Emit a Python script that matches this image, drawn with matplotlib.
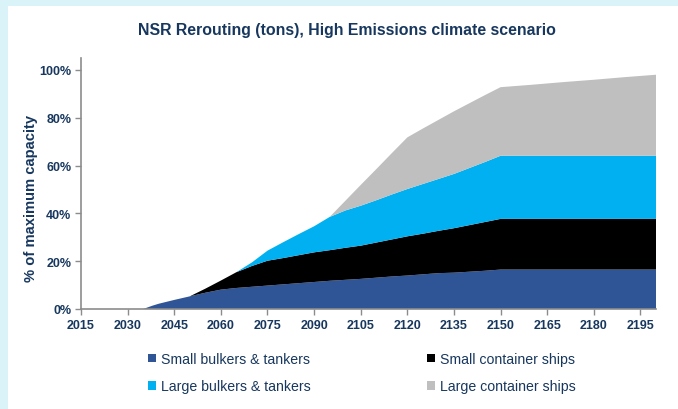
import matplotlib
matplotlib.use("Agg")
import matplotlib.pyplot as plt
from matplotlib.patches import Patch, Rectangle
from matplotlib.ticker import FuncFormatter

plt.rcParams['font.family'] = ['Liberation Sans', 'DejaVu Sans']

years = [2015, 2035, 2038, 2040, 2045, 2050, 2055, 2060, 2065,
         2070, 2075, 2080, 2085, 2090, 2095, 2100, 2105, 2110, 2115, 2120,
         2125, 2130, 2135, 2140, 2145, 2150,
         2160, 2170, 2180, 2190, 2200]

small_bulkers = [0, 0, 1.4, 2.2, 3.8, 5.3, 6.8, 8.1, 8.8,
                 9.3, 9.8, 10.3, 10.8, 11.3, 11.8, 12.2, 12.6, 13.1, 13.6, 14.0,
                 14.5, 15.0, 15.2, 15.6, 16.0, 16.5,
                 16.5, 16.5, 16.5, 16.5, 16.5]
small_container = [0, 0, 0, 0, 0, 0, 1.7, 3.8, 6.6,
                   8.7, 10.4, 11.0, 11.7, 12.4, 12.8, 13.4, 13.9, 14.7, 15.5, 16.4,
                   17.0, 17.7, 18.6, 19.5, 20.4, 21.2,
                   21.2, 21.2, 21.2, 21.2, 21.2]
large_bulkers = [0, 0, 0, 0, 0, 0, 0, 0, 0,
                 1.5, 4.2, 6.6, 8.8, 10.9, 13.9, 15.6, 16.7, 17.7, 18.8, 19.8,
                 20.8, 21.7, 22.7, 23.9, 25.1, 26.4,
                 26.4, 26.4, 26.4, 26.4, 26.4]
large_container = [0, 0, 0, 0, 0, 0, 0, 0, 0,
                   0, 0, 0, 0, 0, 0, 4.0, 8.7, 13.0, 17.3, 21.6,
                   23.2, 24.7, 26.2, 27.1, 28.0, 28.7,
                   29.7, 30.8, 31.8, 32.9, 33.9]

labels = ["Small bulkers & tankers", "Small container ships",
          "Large bulkers & tankers", "Large container ships"]
colors = ["#2F5597", "#000000", "#00B0F0", "#BFBFBF"]
xticks = list(range(2015, 2200, 15))
yticks = [0, 20, 40, 60, 80, 100]

text_col = "#17375E"
spine_col = "#8C8C8C"

W, H = 678, 410
fig = plt.figure(figsize=(W / 100, H / 100), dpi=100)
fig.patch.set_facecolor("#DAF3F8")
fig.add_artist(Rectangle((8 / W, 0), 1 - 8 / W, (H - 7) / H,
                         transform=fig.transFigure, facecolor="white",
                         edgecolor="none", zorder=0))

ax = fig.add_axes([81 / W, (H - 310) / H, 575 / W, 251 / H])
ax.set_facecolor("none")
series = [small_bulkers, small_container, large_bulkers, large_container]
ax.stackplot(years, *series, colors=colors, labels=labels, linewidth=0)

ax.set_xlim(2015, 2200)
ax.set_ylim(0, 105)
ax.set_xticks(xticks)
ax.set_yticks(yticks)
ax.yaxis.set_major_formatter(FuncFormatter(lambda v, p: f"{int(v)}%"))
for s in ["top", "right"]:
    ax.spines[s].set_visible(False)
for s in ["left", "bottom"]:
    ax.spines[s].set_color(spine_col)
    ax.spines[s].set_linewidth(1.2)
    ax.spines[s].set_zorder(5)
ax.tick_params(axis="both", direction="out", length=4, width=1,
               color=spine_col, labelcolor=text_col, labelsize=9, pad=3)
for lab in ax.get_xticklabels() + ax.get_yticklabels():
    lab.set_fontweight("bold")

fig.text(347 / W, 1 - 30 / H, "NSR Rerouting (tons), High Emissions climate scenario",
         ha="center", va="center", fontsize=11.4, fontweight="bold", color=text_col)
fig.text(31 / W, 1 - 198 / H, "% of maximum capacity", rotation=90,
         ha="center", va="center", fontsize=10.6, fontweight="bold", color=text_col)

handles = [Patch(facecolor=c, edgecolor="none") for c in colors]
common = dict(frameon=False, fontsize=10.2, handlelength=0.55, handleheight=0.55,
              handletextpad=0.35, labelspacing=0.95, borderpad=0, borderaxespad=0)
leg1 = fig.legend([handles[0], handles[2]], [labels[0], labels[2]],
                  loc="upper left", bbox_to_anchor=(148 / W, 1 - 353 / H), **common)
leg2 = fig.legend([handles[1], handles[3]], [labels[1], labels[3]],
                  loc="upper left", bbox_to_anchor=(427 / W, 1 - 353 / H), **common)
for leg in (leg1, leg2):
    for t in leg.get_texts():
        t.set_color(text_col)

fig.savefig("out.png", dpi=100, facecolor=fig.get_facecolor())
